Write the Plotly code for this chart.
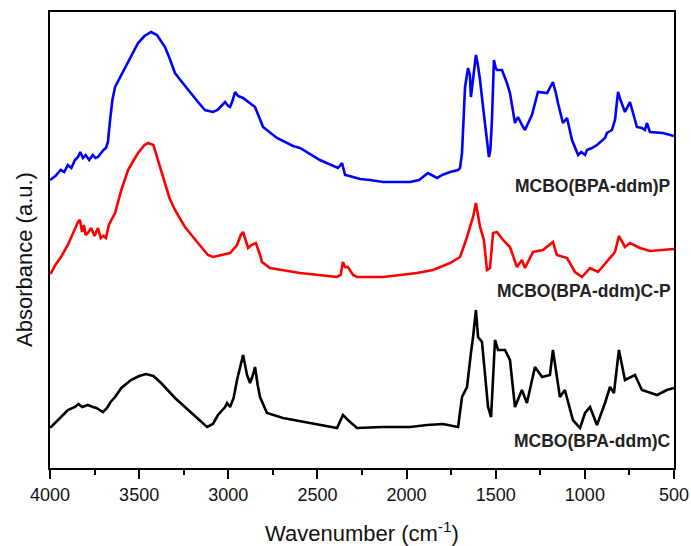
import plotly.graph_objects as go

# Wavenumber (cm^-1) and absorbance (arbitrary units, stacked)
wn_p = [4000,3970,3940,3920,3900,3880,3860,3843,3830,3815,3800,3780,3760,3745,3731,3715,3700,3686,3675,3663,
        3650,3635,3600,3562,3530,3506,3470,3433,3400,3355,3330,3299,3260,3226,3170,3131,3086,3060,3018,3000,
        2990,2975,2962,2945,2917,2880,2850,2805,2727,2637,2598,2486,2385,2370,2362,2352,2345,2320,2261,2205,
        2132,1981,1930,1880,1829,1800,1756,1711,1700,1689,1680,1672,1655,1645,1639,1627,1611,1600,1588,1571,
        1549,1538,1530,1521,1510,1500,1493,1465,1437,1420,1392,1381,1375,1353,1336,1297,1263,1212,1179,1160,
        1151,1123,1100,1072,1038,1020,999,988,960,932,887,876,848,831,814,800,775,747,708,680,
        663,652,635,562,500]
ab_p = [288,292,298,296,303,300,308,311,316,310,313,308,313,310,311,315,318,320,326,348,
        368,381,393,405,416,425,432,436,433,421,410,395,386,378,366,358,356,358,366,362,
        361,368,376,372,370,365,361,341,330,322,320,308,300,303,305,298,293,292,289,288,
        286,286,288,295,290,293,296,298,300,315,348,381,400,393,371,390,413,403,388,361,
        325,311,318,348,408,400,398,398,385,375,345,350,351,343,338,353,376,375,386,373,
        365,345,350,328,313,316,313,318,320,323,330,335,338,348,376,368,356,366,341,340,
        338,345,336,335,332]

wn_cp = [4000,3994,3970,3938,3900,3860,3843,3832,3820,3810,3800,3787,3770,3750,3731,3715,3700,3686,3670,3650,
         3635,3600,3562,3530,3506,3470,3450,3420,3394,3360,3330,3299,3243,3170,3114,3086,3040,2990,2951,2930,
         2917,2900,2889,2870,2845,2822,2811,2766,2598,2390,2370,2357,2345,2329,2300,2278,2132,1941,1852,1756,
         1700,1661,1627,1611,1600,1588,1566,1549,1532,1515,1493,1459,1420,1392,1381,1353,1336,1291,1235,1179,
         1157,1100,1055,1016,971,926,870,831,809,775,747,691,635,562,500]
ab_cp = [195,195,203,211,223,238,246,248,236,243,233,235,240,232,240,230,232,230,243,250,
         255,278,298,308,315,323,325,323,308,288,270,258,241,225,213,211,213,215,223,233,
         236,226,220,223,225,213,206,200,195,191,193,206,201,201,193,191,191,195,198,205,
         211,231,251,265,253,241,228,198,200,235,236,228,221,208,201,208,200,216,218,226,
         213,210,196,191,200,196,208,216,232,221,225,220,217,218,219]

wn_c = [4000,3994,3938,3900,3860,3840,3820,3787,3760,3740,3703,3680,3660,3635,3600,3546,3500,3462,3420,3377,
        3299,3209,3131,3119,3086,3058,3018,3007,2990,2970,2951,2917,2895,2878,2862,2850,2835,2822,2783,2693,
        2542,2390,2357,2329,2278,2132,1981,1885,1796,1711,1689,1661,1639,1627,1611,1599,1577,1560,1543,1526,
        1515,1504,1487,1448,1420,1392,1353,1325,1280,1240,1196,1179,1140,1112,1067,1027,999,971,932,887,
        859,837,809,775,719,680,595,540,500]
ab_c = [41,41,51,58,61,64,61,63,61,60,56,60,66,71,80,88,92,94,92,85,
        70,55,43,41,44,53,61,65,61,70,88,113,93,85,93,101,83,71,55,50,
        45,40,53,48,40,41,41,43,44,41,71,81,115,131,158,131,126,95,61,51,
        98,128,118,118,108,61,78,65,101,91,93,118,71,78,48,40,55,61,43,65,
        81,75,118,88,93,78,73,78,80]

names = ["MCBO(BPA-ddm)P", "MCBO(BPA-ddm)C-P", "MCBO(BPA-ddm)C"]
colors = ["#0000FF", "#FF0000", "#000000"]
label_y = [282, 177, 27]

xticks = [4000, 3500, 3000, 2500, 2000, 1500, 1000, 500]

fig = go.Figure()
for wn, ab, c, n in [(wn_p, ab_p, colors[0], names[0]),
                     (wn_cp, ab_cp, colors[1], names[1]),
                     (wn_c, ab_c, colors[2], names[2])]:
    fig.add_trace(go.Scatter(x=wn, y=ab, mode="lines", name=n,
                             line=dict(color=c, width=2.6), showlegend=False))

for n, yv in zip(names, label_y):
    fig.add_annotation(x=1, y=yv, xref="paper", yref="y", text="<b>%s</b>" % n,
                       showarrow=False, xanchor="right", yanchor="middle", xshift=-1,
                       font=dict(size=17.5, color="#222222"))

fig.add_annotation(text="Absorbance (a.u.)", xref="paper", yref="paper",
                   x=-0.042, y=0.458, textangle=-90, showarrow=False,
                   xanchor="center", yanchor="middle", font=dict(size=22, color="#111111"))
fig.add_annotation(text="Wavenumber (cm<sup>-1</sup>)", xref="paper", yref="paper",
                   x=0.5, y=-0.14, showarrow=False,
                   xanchor="center", yanchor="middle", font=dict(size=22, color="#111111"))

fig.update_layout(
    width=691, height=546,
    margin=dict(l=50, r=17, t=12, b=78, autoexpand=False),
    paper_bgcolor="white", plot_bgcolor="white",
    font=dict(family="Liberation Sans, Arial, sans-serif", color="#111111"),
    xaxis=dict(range=[4000, 500], tickvals=xticks, ticks="outside", ticklen=9, tickwidth=2,
               tickcolor="black", showline=True, linecolor="black", linewidth=2.2, mirror=True,
               showgrid=False, zeroline=False, tickfont=dict(size=18), automargin=False,
               minor=dict(ticks="outside", ticklen=5, tickwidth=2, tickcolor="black", dtick=250)),
    yaxis=dict(range=[0, 456], showticklabels=False, ticks="", showline=True, linecolor="black",
               linewidth=2.2, mirror=True, showgrid=False, zeroline=False, automargin=False),
)

fig.write_html("out.html")
